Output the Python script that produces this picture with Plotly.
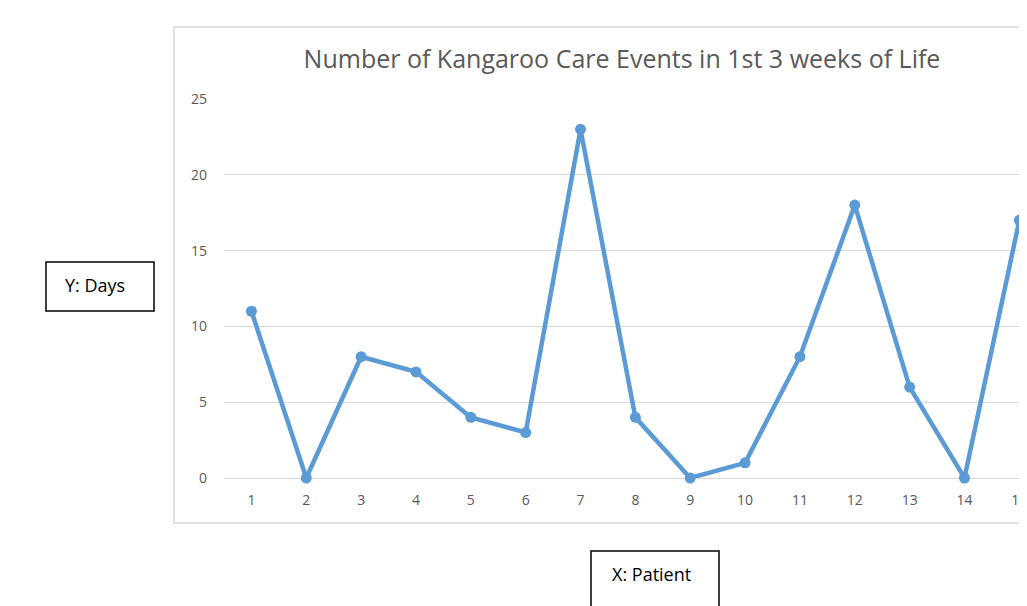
import plotly.graph_objects as go

patients = list(range(1, 16))
days = [11, 0, 8, 7, 4, 3, 23, 4, 0, 1, 8, 18, 6, 0, 17]
y_ticks = [0, 5, 10, 15, 20, 25]

OFF = 8  # page body margin
W, H = 1027 - OFF, 606 - OFF
L, R, T, B = 224 - OFF, 0, 99 - OFF, 606 - 478
PW, PH = W - L - R, H - T - B

def px(x):
    return (x - OFF - L) / PW

def py(y):
    return (H - B - (y - OFF)) / PH

fig = go.Figure()
fig.add_trace(go.Scatter(
    x=patients, y=days, mode="lines+markers",
    line=dict(color="#5B9BD5", width=4.5),
    marker=dict(color="#5B9BD5", size=11),
    cliponaxis=False, showlegend=False,
))

font = "'Open Sans', sans-serif"
fig.update_layout(
    width=W, height=H,
    margin=dict(l=L, r=R, t=T, b=B),
    paper_bgcolor="white", plot_bgcolor="white",
    title=dict(text="Number of Kangaroo Care Events in 1st 3 weeks of Life",
               x=(622 - OFF) / W, xref="container", xanchor="center",
               y=1 - (59 - OFF) / H, yref="container", yanchor="middle",
               font=dict(family=font, size=25, color="#595959")),
    xaxis=dict(range=[0.5, 0.5 + PW / 54.85], tickvals=patients,
               showgrid=False, zeroline=False, showline=False,
               ticks="", tickfont=dict(family=font, size=14, color="#595959"),
               ticklabelstandoff=12, ticklabeloverflow="allow"),
    yaxis=dict(range=[0, 25], tickvals=y_ticks, showgrid=True,
               gridcolor="#D9D9D9", gridwidth=1, zeroline=True,
               zerolinecolor="#D9D9D9", zerolinewidth=1, showline=False,
               ticks="", tickfont=dict(family=font, size=14, color="#595959"),
               ticklabelstandoff=16),
    shapes=[
        dict(type="rect", xref="paper", yref="paper",
             x0=px(174), x1=px(1040), y0=py(523), y1=py(27),
             line=dict(color="#D9D9D9", width=1.5), layer="below"),
        dict(type="rect", xref="paper", yref="paper",
             x0=px(46), x1=px(154), y0=py(311), y1=py(262),
             line=dict(color="black", width=1.5)),
        dict(type="rect", xref="paper", yref="paper",
             x0=px(591), x1=px(719), y0=py(620), y1=py(551),
             line=dict(color="black", width=1.5)),
    ],
    annotations=[
        dict(text="Y: Days", xref="paper", yref="paper", x=px(95), y=py(285),
             showarrow=False, xanchor="center", yanchor="middle",
             font=dict(family=font, size=18, color="black")),
        dict(text="X: Patient", xref="paper", yref="paper", x=px(651), y=py(574),
             showarrow=False, xanchor="center", yanchor="middle",
             font=dict(family=font, size=18, color="black")),
    ],
)

fig.write_html("out.html")
